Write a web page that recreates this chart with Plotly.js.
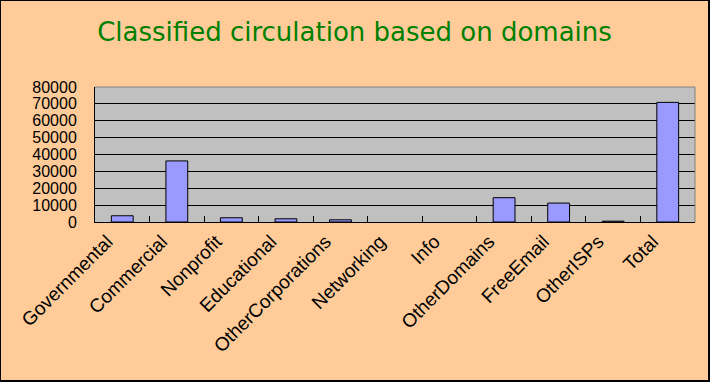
<!DOCTYPE html>
<html>
<head>
<meta charset="utf-8">
<script src="https://cdn.plot.ly/plotly-3.0.1.min.js"></script>
<style>
html,body{margin:0;padding:0;background:#FFCC99;}
#wrap{width:707px;height:379px;border-left:1px solid #000;border-top:1px solid #000;border-right:2px solid #000;border-bottom:2px solid #000;background:#FFCC99;}
#chart{width:707px;height:379px;}
</style>
</head>
<body>
<div id="wrap"><div id="chart"></div></div>
<script>
const categories = ["Governmental","Commercial","Nonprofit","Educational","OtherCorporations","Networking","Info","OtherDomains","FreeEmail","OtherISPs","Total"];
const circulation = [3700, 36200, 2500, 1900, 1300, 0, 0, 14400, 11200, 500, 70900];
const yTickValues = [0,10000,20000,30000,40000,50000,60000,70000,80000];
const titleText = "Classified circulation based on domains";

const trace = {
  type: "bar",
  x: categories,
  y: circulation,
  marker: {color: "#9999FF", line: {color: "#000000", width: circulation.map(v => v > 0 ? 1 : 0)}},
  hoverinfo: "x+y"
};

const layout = {
  width: 707, height: 379,
  paper_bgcolor: "#FFCC99",
  plot_bgcolor: "#C0C0C0",
  margin: {l: 94, r: 13, t: 86, b: 158},
  title: {text: titleText, font: {family: "DejaVu Sans", size: 26, color: "#008000"}, x: 0.5, xanchor: "center", y: 0.918, yanchor: "middle"},
  bargap: 0.6,
  showlegend: false,
  xaxis: {
    type: "category",
    tickangle: -45,
    tickfont: {family: "Liberation Sans", size: 19, color: "#000"},
    showline: true, linecolor: "#000", linewidth: 1,
    ticks: "inside", ticklen: 6, tickcolor: "#000", tickson: "boundaries",
    showgrid: false,
    ticklabelstandoff: 0,
    ticklabelshift: -15,
    fixedrange: true
  },
  yaxis: {
    range: [0, 80000],
    tickvals: yTickValues,
    ticktext: yTickValues.map(String),
    tickfont: {family: "Liberation Sans", size: 16, color: "#000"},
    showline: true, linecolor: "#000", linewidth: 1,
    ticks: "inside", ticklen: 5, tickcolor: "#000",
    showgrid: true, gridcolor: "#000", gridwidth: 1,
    zeroline: false,
    ticklabelstandoff: 14,
    fixedrange: true
  },
  shapes: [
    {type: "line", xref: "paper", yref: "paper", x0: 0, x1: 1, y0: 1, y1: 1, line: {color: "#808080", width: 1}, layer: "above"},
    {type: "line", xref: "paper", yref: "paper", x0: 1, x1: 1, y0: 0, y1: 1, line: {color: "#808080", width: 1}, layer: "above"}
  ]
};

Plotly.newPlot("chart", [trace], layout, {displayModeBar: false, staticPlot: true});
</script>
</body>
</html>
